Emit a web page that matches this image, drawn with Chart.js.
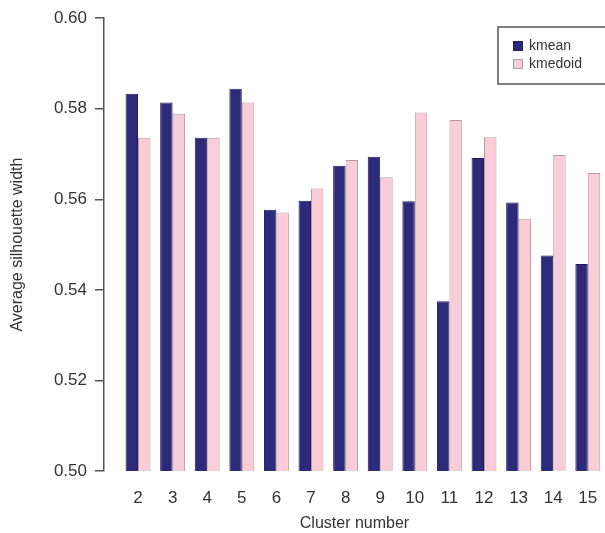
<!DOCTYPE html>
<html>
<head>
<meta charset="utf-8">
<script src="https://cdn.jsdelivr.net/npm/chart.js@4/dist/chart.umd.min.js"></script>
<style>
  html, body { margin: 0; padding: 0; background: #ffffff; }
  #wrap { width: 605px; height: 533px; position: relative; }
</style>
</head>
<body>
<div id="wrap"><canvas id="c" width="605" height="533"></canvas></div>
<script>
// Average silhouette width per number of clusters, two clustering methods
const clusters = [2, 3, 4, 5, 6, 7, 8, 9, 10, 11, 12, 13, 14, 15];
const kmean   = [0.5833, 0.5814, 0.5736, 0.5844, 0.5577, 0.5597, 0.5674, 0.5694, 0.5596, 0.5375, 0.5691, 0.5593, 0.5476, 0.5457];
const kmedoid = [0.5736, 0.5789, 0.5736, 0.5814, 0.5571, 0.5624, 0.5687, 0.5649, 0.5792, 0.5775, 0.5737, 0.5557, 0.5698, 0.5658];
const seriesNames = ['kmean', 'kmedoid'];
const yTicks = [0.50, 0.52, 0.54, 0.56, 0.58, 0.60];

const FONT = '"Liberation Sans", Arial, Helvetica, sans-serif';
const TEXT = '#333333';
const AXIS = '#555555';
const FILLS = ['#2E2A7A', '#F8CDD8'];
const EDGES = ['#221E5E', '#B89A9C'];

const toPoints = vals => clusters.map((c, i) => ({ x: c, y: vals[i] }));

// Boxed legend in the upper right corner, partly running off the canvas
const boxLegend = {
  id: 'boxLegend',
  afterDatasetsDraw(chart) {
    const ctx = chart.ctx;
    ctx.save();
    ctx.fillStyle = '#ffffff';
    ctx.fillRect(498, 27, 120, 57);
    ctx.strokeStyle = AXIS;
    ctx.lineWidth = 1.5;
    ctx.strokeRect(498, 27, 120, 57);
    ctx.font = '14px ' + FONT;
    ctx.textBaseline = 'middle';
    const rows = [46, 64];
    chart.data.datasets.forEach((ds, i) => {
      const y = rows[i];
      ctx.fillStyle = ds.backgroundColor;
      ctx.fillRect(513, y - 5, 10, 10);
      ctx.strokeStyle = ds.borderColor;
      ctx.lineWidth = 1;
      ctx.strokeRect(513.5, y - 4.5, 9, 9);
      ctx.fillStyle = TEXT;
      ctx.fillText(ds.label, 529, y);
    });
    ctx.restore();
  }
};

new Chart(document.getElementById('c'), {
  type: 'bar',
  data: {
    datasets: [
      { label: seriesNames[0], data: toPoints(kmean), backgroundColor: FILLS[0], borderColor: EDGES[0], borderWidth: 1 },
      { label: seriesNames[1], data: toPoints(kmedoid), backgroundColor: FILLS[1], borderColor: EDGES[1], borderWidth: 1 }
    ]
  },
  options: {
    responsive: false,
    animation: false,
    devicePixelRatio: 1,
    layout: { padding: { top: 17, right: 0, bottom: 0, left: 0 } },
    datasets: { bar: { categoryPercentage: 0.72, barPercentage: 1.0 } },
    plugins: { legend: { display: false }, tooltip: { enabled: false } },
    scales: {
      x: {
        type: 'linear',
        offset: false,
        min: 1.017,
        max: 15.497,
        grid: { display: false, drawTicks: false },
        border: { display: false },
        afterBuildTicks(scale) { scale.ticks = clusters.map(v => ({ value: v })); },
        afterFit(scale) {
          scale.height = 62;
          scale.paddingLeft = 0;
          scale.paddingRight = 0;
        },
        ticks: {
          autoSkip: false,
          maxRotation: 0,
          padding: 17,
          color: TEXT,
          font: { family: FONT, size: 17 },
          callback: v => String(v)
        },
        title: {
          display: true,
          text: 'Cluster number',
          color: TEXT,
          font: { family: FONT, size: 16 },
          padding: { top: 1, bottom: 0 }
        }
      },
      y: {
        min: 0.5,
        max: 0.6,
        afterBuildTicks(scale) { scale.ticks = yTicks.map(v => ({ value: v })); },
        afterFit(scale) { scale.width = 104; },
        grid: { drawOnChartArea: false, drawTicks: true, tickLength: 9, color: AXIS, lineWidth: 1.5 },
        border: { display: true, color: AXIS, width: 1.5 },
        ticks: {
          padding: 8,
          color: TEXT,
          font: { family: FONT, size: 17 },
          callback: v => Number(v).toFixed(2)
        },
        title: {
          display: true,
          text: 'Average silhouette width',
          color: TEXT,
          font: { family: FONT, size: 16 },
          padding: { top: 8, bottom: 0 }
        }
      }
    }
  },
  plugins: [boxLegend]
});
</script>
</body>
</html>
